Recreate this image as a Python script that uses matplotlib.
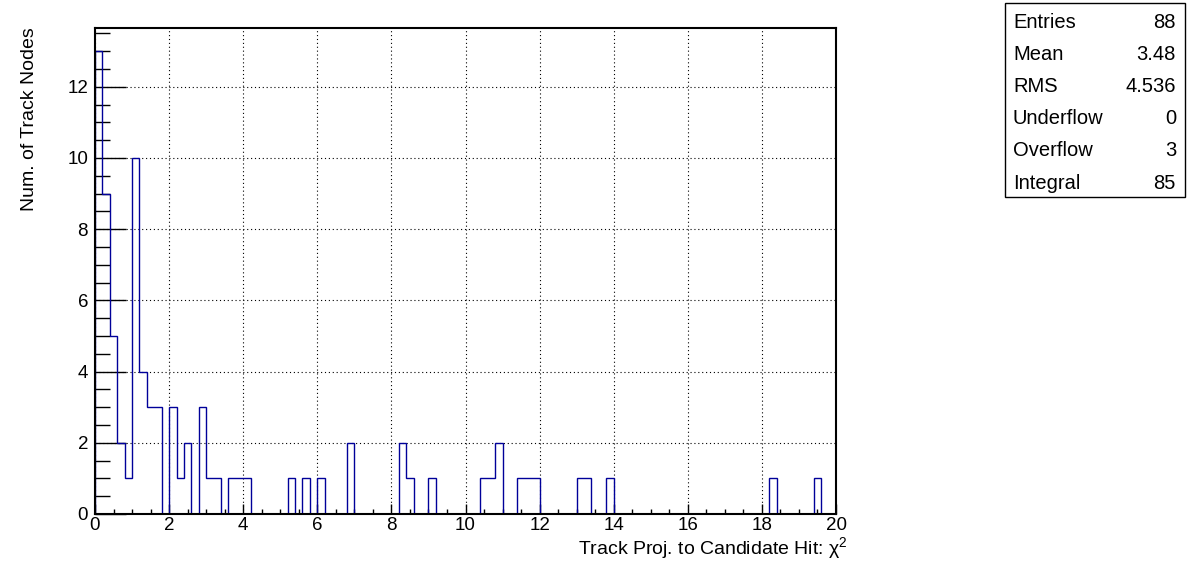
import numpy as np
import matplotlib
matplotlib.use('Agg')
import matplotlib.pyplot as plt

# histogram settings: 100 bins from 0 to 20
x_low = 0.0
x_high = 20.0
n_bins = 100

# bin contents, 10 bins per row
counts = [
    13, 9, 5, 2, 1, 10, 4, 3, 3, 0,
    3, 1, 2, 0, 3, 1, 1, 0, 1, 1,
    1, 0, 0, 0, 0, 0, 1, 0, 1, 0,
    1, 0, 0, 0, 2, 0, 0, 0, 0, 0,
    0, 2, 1, 0, 0, 1, 0, 0, 0, 0,
    0, 0, 1, 1, 2, 0, 0, 1, 1, 1,
    0, 0, 0, 0, 0, 1, 1, 0, 0, 1,
    0, 0, 0, 0, 0, 0, 0, 0, 0, 0,
    0, 0, 0, 0, 0, 0, 0, 0, 0, 0,
    0, 1, 0, 0, 0, 0, 0, 1, 0, 0,
]

# stats box
stat_names = ['Entries', 'Mean', 'RMS', 'Underflow', 'Overflow', 'Integral']
stat_values = ['88', '3.48', '4.536', '0', '3', '85']

x_title = r'Track Proj. to Candidate Hit: $\mathrm{\chi}^{2}$'
y_title = 'Num. of Track Nodes'

plt.rcParams['font.family'] = ['Liberation Sans', 'DejaVu Sans']
plt.rcParams['mathtext.fontset'] = 'custom'
plt.rcParams['mathtext.rm'] = 'Liberation Sans'
plt.rcParams['mathtext.it'] = 'Liberation Sans'

W, H = 1196, 572
fig = plt.figure(figsize=(W / 100, H / 100), dpi=100)
ax = fig.add_axes([95 / W, 1 - 514 / H, (836 - 95) / W, (514 - 28) / H])

edges = np.linspace(x_low, x_high, n_bins + 1)
ax.stairs(counts, edges, baseline=0, color='#000099', linewidth=1.0)

ax.set_xlim(x_low, x_high)
ax.set_ylim(0, 1.05 * max(counts))

# ROOT-like axes
ax.set_xticks(np.arange(0, 21, 2))
ax.set_xticks(np.arange(0, 20.01, 0.5), minor=True)
ax.set_yticks(np.arange(0, 13, 2))
ax.set_yticks(np.arange(0, 13.6, 0.5), minor=True)
ax.tick_params(axis='x', which='major', direction='in', length=7, width=1, labelsize=13.5, pad=2)
ax.tick_params(axis='x', which='minor', direction='in', length=3.5, width=1)
ax.tick_params(axis='y', which='major', direction='in', length=22, width=1, labelsize=13.5, pad=5)
ax.tick_params(axis='y', which='minor', direction='in', length=11, width=1)
ax.tick_params(top=False, right=False, which='both')
for s in ax.spines.values():
    s.set_linewidth(1.5)

ax.grid(True, which='major', color='black', linestyle=(0, (1, 2.5)), linewidth=0.8)
ax.set_axisbelow(True)

fig.text(848 / W, 1 - 554 / H, x_title, ha='right', va='baseline', fontsize=14)
fig.text(30 / W, 1 - 27 / H, y_title, ha='center', va='top', rotation=90, fontsize=14)

# stats box
box = plt.Rectangle((1005 / W, 1 - 197 / H), (1185 - 1005) / W, (197 - 3) / H,
                    transform=fig.transFigure, fill=False, edgecolor='black', linewidth=1.0)
fig.add_artist(box)
for i in range(len(stat_names)):
    yy = 1 - (23 + i * 32) / H
    fig.text(1013 / W, yy, stat_names[i], ha='left', va='center', fontsize=14.5)
    fig.text(1176 / W, yy, stat_values[i], ha='right', va='center', fontsize=14.5)

fig.savefig('out.png', dpi=100, facecolor='white')
